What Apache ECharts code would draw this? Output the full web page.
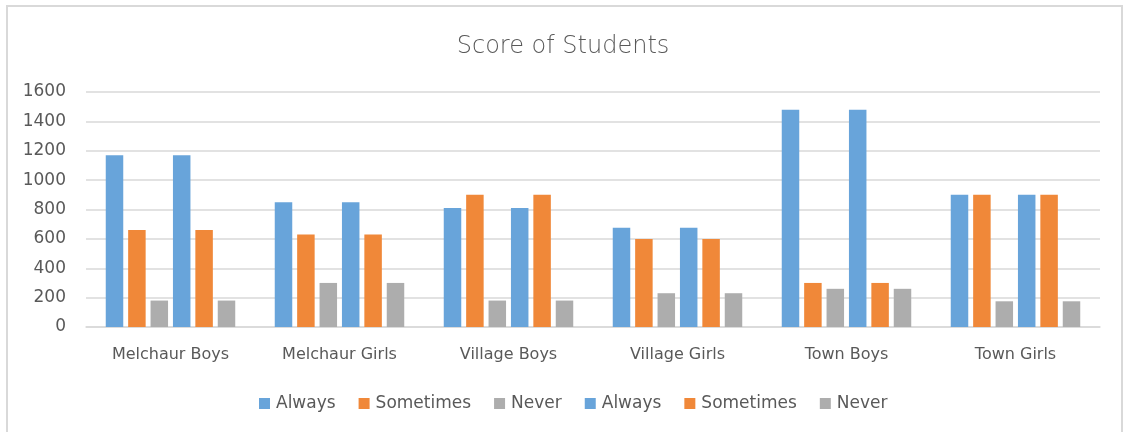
<!DOCTYPE html>
<html>
<head>
<meta charset="utf-8">
<title>Score of Students</title>
<script src="https://cdn.jsdelivr.net/npm/echarts@6/dist/echarts.min.js"></script>
<style>
  html, body { margin: 0; padding: 0; background: #fff; overflow: hidden; }
  #frame {
    position: absolute; left: 6px; top: 5px; width: 1113px; height: 500px;
    border: 2px solid #D9D9D9; border-bottom: none; pointer-events: none;
  }
  #main { width: 1126px; height: 432px; }
</style>
</head>
<body>
<div id="main"></div>
<div id="frame"></div>
<script>
// 分类
var categories = ['Melchaur Boys', 'Melchaur Girls', 'Village Boys', 'Village Girls', 'Town Boys', 'Town Girls']
// 各系列数据
var always = [1170, 850, 810, 675, 1480, 900]
var sometimes = [660, 630, 900, 600, 300, 900]
var never = [180, 300, 180, 230, 260, 175]
var always2 = [1170, 850, 810, 675, 1480, 900]
var sometimes2 = [660, 630, 900, 600, 300, 900]
var never2 = [180, 300, 180, 230, 260, 175]
var seriesNames = ['Always', 'Sometimes', 'Never', 'Always', 'Sometimes', 'Never']
var yTicks = [0, 200, 400, 600, 800, 1000, 1200, 1400, 1600]

var colors = ['#68A4DA', '#F08839', '#ADADAD']
var font = 'DejaVu Sans'

// 名称重复时图例会合并，第二组加零宽字符区分
function uniqueName (i) {
  return i < 3 ? seriesNames[i] : seriesNames[i] + '\u200B'
}

function scoreChart () {
  var myChart = echarts.init(document.getElementById('main'))
  var allData = [always, sometimes, never, always2, sometimes2, never2]
  var series = allData.map(function (d, i) {
    return {
      name: uniqueName(i),
      type: 'bar',
      data: d,
      barWidth: 17.5,
      barGap: '28%',
      itemStyle: { color: colors[i % 3] },
      emphasis: { disabled: true }
    }
  })
  var option = {
    animation: false,
    title: {
      text: 'Score of Students',
      left: 'center',
      top: 30,
      textStyle: { fontFamily: font, fontSize: 24, fontWeight: 200, color: '#595959' }
    },
    legend: {
      data: [0, 1, 2, 3, 4, 5].map(function (i) {
        return { name: uniqueName(i), icon: 'rect', itemStyle: { color: colors[i % 3] } }
      }),
      bottom: 15,
      left: 254,
      itemWidth: 11,
      itemHeight: 11,
      itemGap: 23,
      textStyle: { fontFamily: font, fontSize: 17, color: '#595959', padding: [0, 0, 0, 1] }
    },
    grid: {
      left: 86,
      right: 26,
      top: 92,
      height: 235,
      containLabel: false
    },
    xAxis: {
      type: 'category',
      data: categories,
      axisLine: { lineStyle: { color: '#D9D9D9', width: 1.5 } },
      axisTick: { show: false },
      axisLabel: { margin: 20, fontFamily: font, fontSize: 16, color: '#595959' }
    },
    yAxis: {
      type: 'value',
      min: yTicks[0],
      max: yTicks[yTicks.length - 1],
      interval: 200,
      axisLine: { show: false },
      axisTick: { show: false },
      axisLabel: {
        margin: 20, fontFamily: font, fontSize: 17, color: '#595959',
        formatter: function (v) { return String(v) }
      },
      splitLine: { lineStyle: { color: '#D9D9D9', width: 1.5 } }
    },
    series: series
  }
  myChart.setOption(option)
}

scoreChart()
</script>
</body>
</html>
